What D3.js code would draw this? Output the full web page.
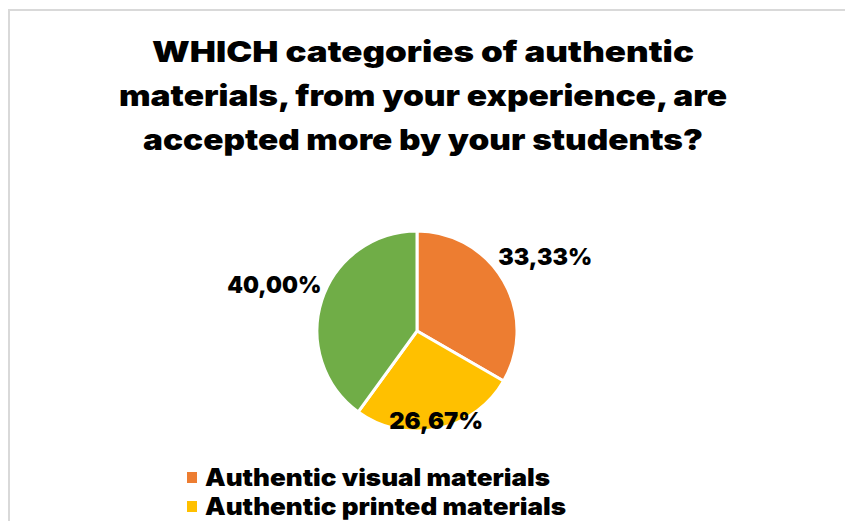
<!DOCTYPE html>
<html>
<head>
<meta charset="utf-8">
<script src="https://cdn.jsdelivr.net/npm/d3@7"></script>
<style>
  html, body { margin: 0; padding: 0; background: #fff; }
  svg { display: block; }
  text { font-family: "Arial Black", Inter, Roboto, "DejaVu Sans", sans-serif; font-weight: 900; fill: #000; }
</style>
</head>
<body>
<svg id="chart" width="845" height="521"></svg>
<script>
// Survey answers: share of teachers per category of authentic materials
const categories = ["Authentic visual materials", "Authentic printed materials", "Authentic audio materials"];
const shares = [33.33, 26.67, 40.00];
const shareLabels = ["33,33%", "26,67%", "40,00%"];
const colors = ["#ED7D31", "#FFC000", "#70AD47"];
const titleLines = [
  "WHICH categories of authentic",
  "materials, from your experience, are",
  "accepted more by your students?"
];

const W = 845, H = 521;
const svg = d3.select("#chart");

// chart frame
svg.append("rect")
  .attr("x", 9).attr("y", 10)
  .attr("width", W + 10).attr("height", H + 10)
  .attr("fill", "#fff")
  .attr("stroke", "#d9d9d9")
  .attr("stroke-width", 2);

// title
const titleWidths = [542, 608, 560];
svg.append("g").selectAll("text")
  .data(titleLines)
  .join("text")
  .attr("x", 423)
  .attr("y", (d, i) => 62 + i * 44)
  .attr("text-anchor", "middle")
  .attr("font-size", 29)
  .attr("textLength", (d, i) => titleWidths[i])
  .attr("lengthAdjust", "spacingAndGlyphs")
  .text(d => d);

// pie
const cx = 417, cy = 331, r = 100;
const pie = d3.pie().sort(null).value(d => d)(shares);
const arc = d3.arc().innerRadius(0).outerRadius(r);
const g = svg.append("g").attr("transform", `translate(${cx},${cy})`);

g.selectAll("path")
  .data(pie)
  .join("path")
  .attr("d", arc)
  .attr("fill", (d, i) => colors[i])
  .attr("stroke", "#fff")
  .attr("stroke-width", 3);

// data labels: outside for the large slices, over the edge for the middle one
const labelRadius = [148, 92, 150];
g.selectAll("text.lbl")
  .data(pie)
  .join("text")
  .attr("class", "lbl")
  .attr("transform", (d, i) => {
    const c = d3.arc().innerRadius(labelRadius[i]).outerRadius(labelRadius[i]).centroid(d);
    return `translate(${c[0]},${c[1]})`;
  })
  .attr("text-anchor", "middle")
  .attr("dy", "0.35em")
  .attr("font-size", 23)
  .attr("textLength", 94)
  .attr("lengthAdjust", "spacingAndGlyphs")
  .text((d, i) => shareLabels[i]);

// legend: only the rows that fit inside the frame
const legendWidths = [345, 361];
const legendRows = categories.slice(0, 2);
const leg = svg.append("g").selectAll("g")
  .data(legendRows)
  .join("g")
  .attr("transform", (d, i) => `translate(187, ${477 + i * 29})`);
leg.append("rect")
  .attr("x", 0).attr("y", -5)
  .attr("width", 10).attr("height", 11)
  .attr("fill", (d, i) => colors[i]);
leg.append("text")
  .attr("x", 18)
  .attr("y", 9)
  .attr("font-size", 24)
  .attr("textLength", (d, i) => legendWidths[i])
  .attr("lengthAdjust", "spacingAndGlyphs")
  .text(d => d);
</script>
</body>
</html>
